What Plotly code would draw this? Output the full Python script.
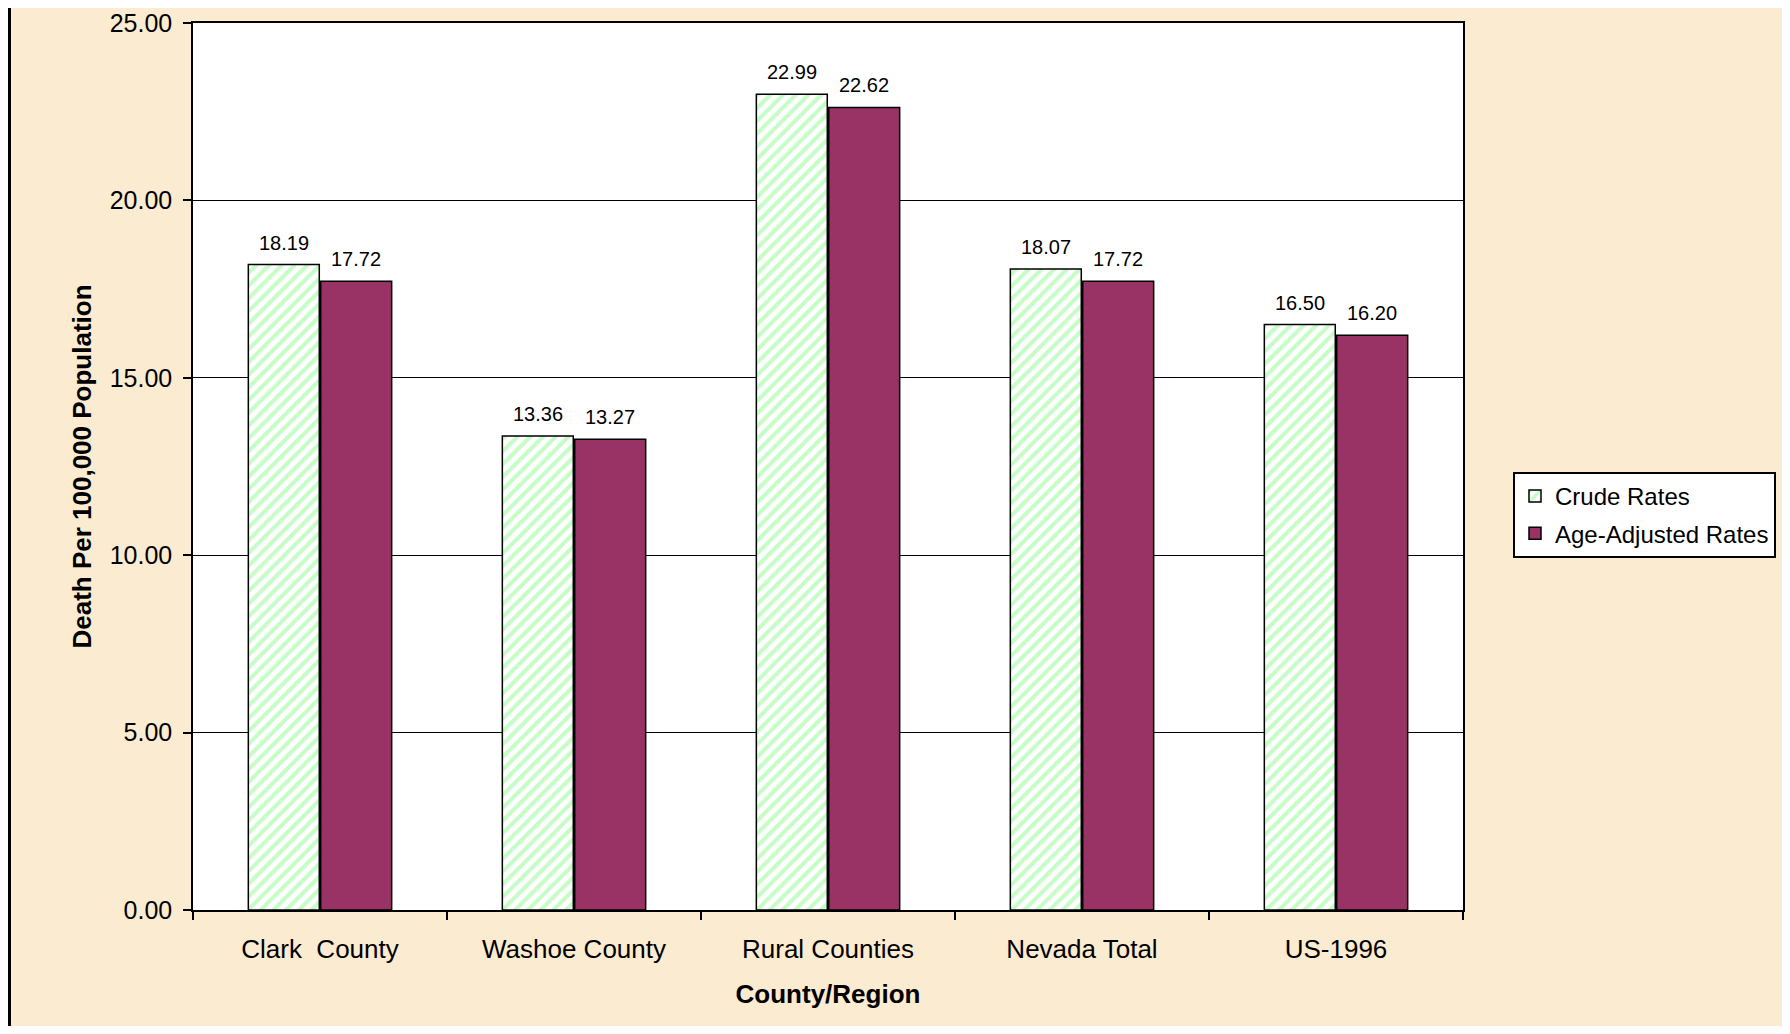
import plotly.graph_objects as go

regions = ['Clark\u00a0 County', 'Washoe County', 'Rural Counties', 'Nevada Total', 'US-1996']
crude_rates = [18.19, 13.36, 22.99, 18.07, 16.50]
adjusted_rates = [17.72, 13.27, 22.62, 17.72, 16.20]

# page has an 8px body margin, so figure pixels = page pixels - 8
W, H = 1774, 1018
L, R, T, B = 185, 1455, 15, 902  # plot area in figure pixels

def px_x(x):
    return (x - L) / (R - L)

def px_y(y):
    return (B - y) / (B - T)

font = 'Arial, Liberation Sans, sans-serif'
BARGAP = 0.43
bar_offset = (R - L) / len(regions) * (1 - BARGAP) / 4  # half of one bar slot, px

trace_crude = go.Bar(
    x=regions,
    y=crude_rates,
    name='Crude Rates',
    legendgroup='a',
    marker=dict(
        color='white',
        line=dict(color='black', width=1.5),
        pattern=dict(shape='/', fgcolor='#c6fcc6', bgcolor='white', size=9,
                     solidity=0.45, fillmode='replace'),
    ),
)

trace_adjusted = go.Bar(
    x=regions,
    y=adjusted_rates,
    name='Age-Adjusted Rates',
    legendgroup='b',
    marker=dict(color='#993366', line=dict(color='black', width=1.5)),
)

# value labels above each bar
annotations = []
for vals, shift in [(crude_rates, -bar_offset), (adjusted_rates, bar_offset)]:
    for reg, v in zip(regions, vals):
        annotations.append(dict(
            x=reg, y=v, xref='x', yref='y', text=f'{v:.2f}',
            showarrow=False, xshift=shift, yshift=9, yanchor='bottom',
            font=dict(size=20, color='black', family=font),
        ))

layout = go.Layout(
    width=W,
    height=H,
    paper_bgcolor='#fbebd1',
    plot_bgcolor='white',
    font=dict(family=font, color='black', size=26),
    margin=dict(l=L, r=W - R, t=T, b=H - B, autoexpand=False),
    barmode='group',
    bargap=BARGAP,
    bargroupgap=0.02,
    xaxis=dict(
        title=dict(text='<b>County/Region</b>', font=dict(size=26), standoff=22),
        showline=True, linecolor='black', linewidth=1.5, mirror=True,
        ticks='outside', ticklen=8, tickcolor='black', tickwidth=1.5,
        tickson='boundaries', ticklabelstandoff=15,
        tickfont=dict(size=26),
    ),
    yaxis=dict(
        title=dict(text='<b>Death Per 100,000 Population</b>', font=dict(size=26), standoff=11),
        range=[0, 25], dtick=5, tickformat='.2f',
        showline=True, linecolor='black', linewidth=1.5, mirror=True,
        gridcolor='black', gridwidth=1,
        ticks='outside', ticklen=8, tickcolor='black', tickwidth=1.5,
        ticklabelstandoff=6, ticklabeloverflow='allow',
        tickfont=dict(size=25),
        zeroline=False,
    ),
    legend=dict(
        x=px_x(1505), y=px_y(464), xanchor='left', yanchor='top',
        bgcolor='white', bordercolor='black', borderwidth=2,
        font=dict(size=24), traceorder='grouped', tracegroupgap=3,
    ),
    showlegend=True,
    annotations=annotations,
    shapes=[
        dict(type='line', xref='paper', yref='paper',
             x0=px_x(1.5), x1=px_x(1.5), y0=px_y(H), y1=px_y(0),
             line=dict(color='black', width=3)),
    ],
)

fig = go.Figure(data=[trace_crude, trace_adjusted], layout=layout)
fig.write_html('out.html')
